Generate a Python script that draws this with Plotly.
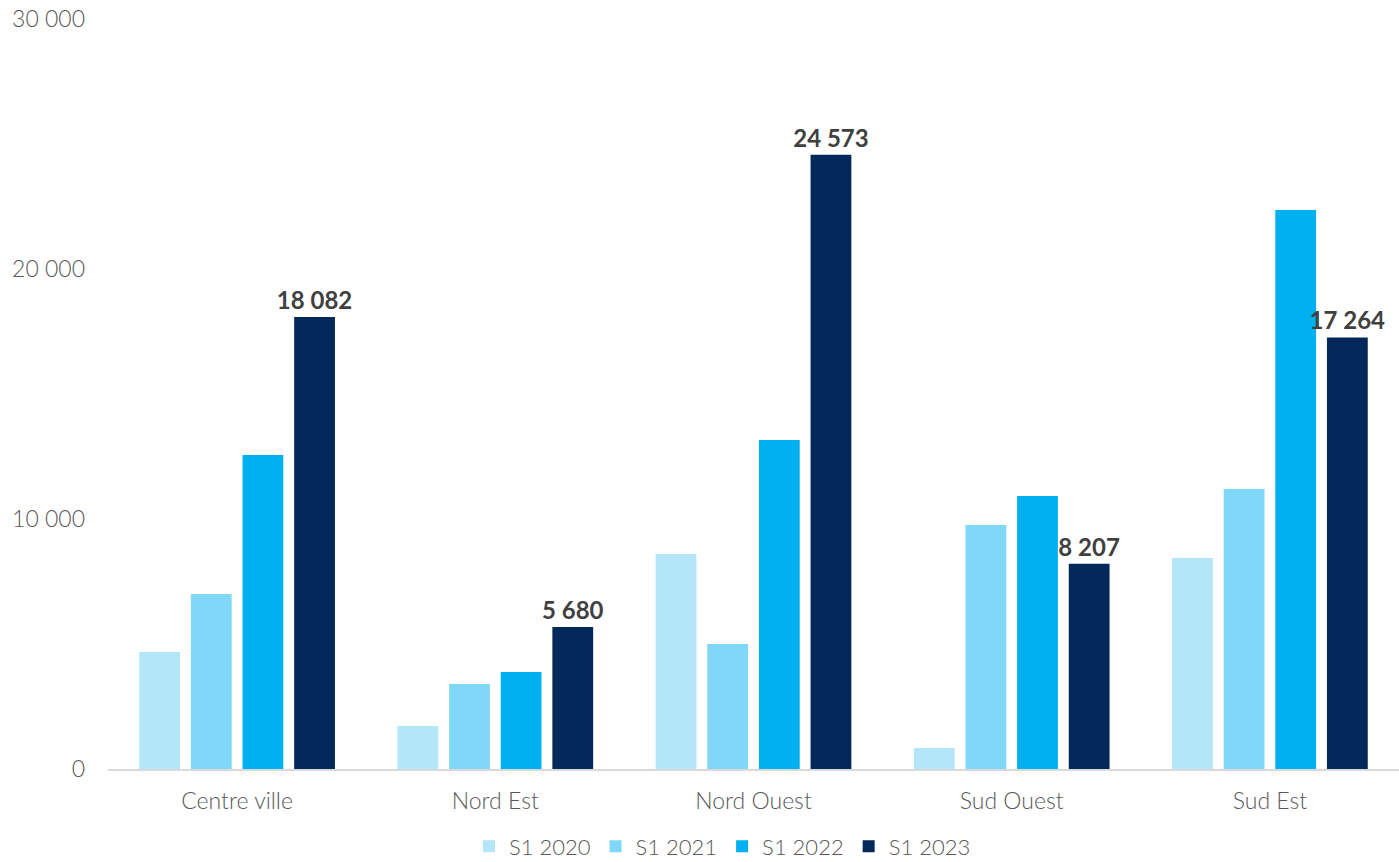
import plotly.graph_objects as go

categories = ["Centre ville", "Nord Est", "Nord Ouest", "Sud Ouest", "Sud Est"]
series_names = ["S1 2020", "S1 2021", "S1 2022", "S1 2023"]
s1_2020 = [4680, 1720, 8600, 840, 8440]
s1_2021 = [7000, 3400, 5000, 9760, 11200]
s1_2022 = [12560, 3880, 13160, 10920, 22360]
s1_2023 = [18082, 5680, 24573, 8207, 17264]
tick_vals = [0, 10000, 20000, 30000]

colors = ["#B4E6FA", "#80D8F8", "#00B0F0", "#03295B"]
all_series = [s1_2020, s1_2021, s1_2022, s1_2023]

FONT = "Lato"

fig = go.Figure()
for name, vals, col in zip(series_names, all_series, colors):
    show_text = name == "S1 2023"
    fig.add_trace(go.Bar(
        x=categories, y=vals, name=name,
        marker=dict(color=col, line=dict(width=0)),
        texttemplate="%{y:,}" if show_text else None,
        textposition="outside" if show_text else "none",
        constraintext="none",
        textfont=dict(family=FONT, size=24, color="#404040", weight="bold"),
        cliponaxis=False,
        hoverinfo="skip",
    ))

fig.update_layout(
    width=1399, height=862,
    barmode="group", bargap=0.2, bargroupgap=0.21,
    separators=", ",
    paper_bgcolor="white", plot_bgcolor="white",
    margin=dict(l=108, r=0, t=19, b=93),
    font=dict(family=FONT, color="#595959", size=23),
    showlegend=True,
    legend=dict(orientation="h", x=0.476, xanchor="center",
                xref="paper", yref="container", y=0.018, yanchor="middle",
                font=dict(size=22, color="#595959", weight=300), itemwidth=30,
                traceorder="normal"),
)
fig.update_yaxes(range=[0, 30000], tickvals=tick_vals, tickformat=",d",
                 showgrid=False, zeroline=False, showline=False, automargin=False,
                 ticks="", ticklabelstandoff=22,
                 tickfont=dict(size=23, color="#595959", weight=300))
fig.update_xaxes(showline=True, linecolor="#D9D9D9", linewidth=2, automargin=False,
                 ticks="", showgrid=False, ticklabelstandoff=10,
                 tickfont=dict(size=23, color="#595959", weight=300))

fig.write_html("out.html", config={"displayModeBar": False},
               post_script="document.body.style.margin='0px';")
